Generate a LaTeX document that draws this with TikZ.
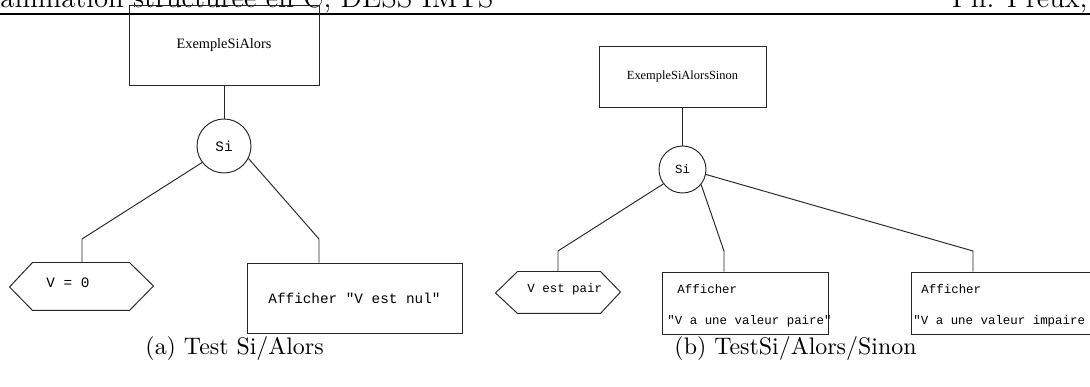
\documentclass[tikz,border=0pt]{standalone}
\usepackage{fontspec}
\newfontfamily\tmsfam{Liberation Serif}
\newfontfamily\courfam{Liberation Mono}
\newcommand\PX{0.4184pt}
\begin{document}
\begin{tikzpicture}[x=0.4184pt,y=-0.4184pt,
  ln/.style={line width=0.4pt,draw=black!85},
  bx/.style={draw=black!85,line width=0.4pt,rectangle,inner sep=0pt},
  rd/.style={draw=black!85,line width=0.4pt,circle,inner sep=0pt},
  txt/.style={inner sep=0pt},
  sa/.style={font=\fontsize{6}{7}\selectfont\tmsfam},
  sb/.style={font=\fontsize{5.2}{6}\selectfont\tmsfam},
  ma/.style={font=\fontsize{6}{7}\selectfont\courfam},
  mb/.style={font=\fontsize{5.2}{6}\selectfont\courfam},
  hd/.style={font=\fontsize{12}{14}\selectfont,inner sep=0pt},
  captxt/.style={font=\fontsize{10}{12}\selectfont,inner sep=0pt}]
\useasboundingbox (0,0) rectangle (1090,387);
\clip (0,0) rectangle (1090,387);
% header
\node[hd,anchor=base west] (hdl) at (0,7.5) {ammation structurée en C, DESS IMTS};
\node[hd,anchor=base east] (hdr) at (1088,7.5) {Ph. Preux,};
\draw[line width=0.7pt] (0,14) coordinate (rl) -- (1090,14) coordinate (rr);
% ---------- left diagram ----------
\node[bx,sa,minimum width=190*\PX,minimum height=80*\PX] (top1) at (224,45) {ExempleSiAlors};
\node[rd,ma,minimum size=54*\PX] (si1) at (224,146) {Si};
\draw[ln] (top1.south) -- (si1.north);
% hexagon V = 0
\node[txt,minimum width=96*\PX,minimum height=47*\PX] (hex1) at (81,286.5) {};
\draw[ln] (hex1.north west) -- (hex1.north east) -- ++(24,23.5) -- (hex1.south east)
  -- (hex1.south west) -- ++(-23,-23.5) -- cycle;
\node[txt,ma,anchor=west] (hex1t) at (46,283) {V = 0};
% rect
\node[bx,ma,minimum width=215*\PX,minimum height=70*\PX] (rect1) at (354.5,298) {Afficher "V est nul"};
\coordinate (b1) at (82,239);
\coordinate (b2) at (319,239);
\draw[ln] (si1.217) -- (b1) -- (b1 |- hex1.north);
\draw[ln] (si1.-27) -- (b2) -- (b2 |- rect1.north);
\node[captxt,anchor=base west] (capa) at (145,355) {(a) Test Si/Alors};
% ---------- right diagram ----------
\node[bx,sb,minimum width=167*\PX,minimum height=61*\PX] (top2) at (682.5,76.5) {ExempleSiAlorsSinon};
\node[rd,mb,minimum size=47*\PX] (si2) at (682.5,169.5) {Si};
\draw[ln] (top2.south) -- (si2.north);
% hexagon V est pair
\node[txt,minimum width=82*\PX,minimum height=41*\PX] (hex2) at (559,292.5) {};
\draw[ln] (hex2.north west) -- (hex2.north east) -- ++(20,20.5) -- (hex2.south east)
  -- (hex2.south west) -- ++(-22,-20.5) -- cycle;
\node[txt,mb,anchor=west] (hex2t) at (527,289) {V est pair};
% middle rect
\node[bx,minimum width=166*\PX,minimum height=62*\PX] (rect2) at (745,303) {};
\node[txt,mb,anchor=west] (r2a) at (677,289) {Afficher};
\node[txt,mb,anchor=west] (r2b) at (667,321) {"V a une valeur paire"};
% right rect
\node[bx,minimum width=200*\PX,minimum height=62*\PX] (rect3) at (1011,303) {};
\node[txt,mb,anchor=west] (r3a) at (921,289) {Afficher};
\node[txt,mb,anchor=west] (r3b) at (913,321) {"V a une valeur impaire};
\coordinate (c1) at (558,251);
\coordinate (c2) at (724,251);
\coordinate (c3) at (973,251);
\draw[ln] (si2.217) -- (c1) -- (c1 |- hex2.north);
\draw[ln] (si2.-39) -- (c2) -- (c2 |- rect2.north);
\draw[ln] (si2.-12) -- (c3) -- (c3 |- rect3.north);
\node[captxt,anchor=base west] (capb) at (674,355) {(b) TestSi/Alors/Sinon};
\end{tikzpicture}
\end{document}
